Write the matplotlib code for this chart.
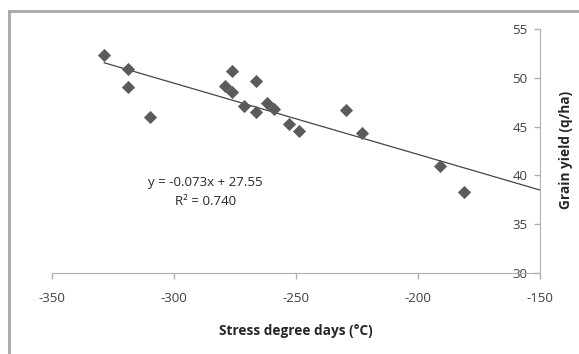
import numpy as np
from matplotlib import pyplot as plt

# stress degree days vs grain yield
sdd = [-328.6, -319.0, -318.7, -309.8, -279.0, -276.1, -276.1, -271.2,
       -266.5, -266.5, -261.8, -258.9, -253.0, -248.8, -229.5, -223.1,
       -191.0, -181.0]
grain = [52.3, 50.9, 49.1, 46.0, 49.2, 50.7, 48.5, 47.1,
         49.65, 46.5, 47.4, 46.8, 45.25, 44.6, 46.7, 44.3,
         41.0, 38.3]

slope = -0.073
intercept = 27.55
r2 = 0.740

x_ticks = [-350, -300, -250, -200, -150]
y_ticks = [30, 35, 40, 45, 50, 55]

plt.rcParams['font.family'] = ['Open Sans', 'DejaVu Sans']
plt.rcParams['axes.unicode_minus'] = False

fig = plt.figure(figsize=(5.79, 3.54), dpi=100)
ax = fig.add_axes([52 / 579, 1 - 273 / 354, 488 / 579, 244 / 354])

ax.scatter(sdd, grain, marker='D', s=45, color='#5b5b5b', zorder=3, linewidths=0)

# trend line from the first point out to the end of the axis
xl = np.array([min(sdd), -150])
ax.plot(xl, slope * xl + intercept, color='#444444', linewidth=0.9, zorder=2)

ax.set_xlim(-350, -150)
ax.set_ylim(30, 55)
ax.set_xticks(x_ticks)
ax.set_yticks(y_ticks)

spine_col = '#b0b0b0'
ax.spines['top'].set_visible(False)
ax.spines['right'].set_visible(False)
ax.spines['left'].set_position(('data', -150))
ax.spines['left'].set_color(spine_col)
ax.spines['bottom'].set_color(spine_col)
ax.tick_params(axis='both', colors=spine_col, labelcolor='#404040', labelsize=9.5,
               length=4, width=1)
ax.tick_params(axis='x', pad=10)
ax.tick_params(axis='y', pad=5)
ax.patch.set_alpha(0)

ax.set_xlabel('Stress degree days (°C)', fontsize=9.8, fontweight='bold', color='#262626', labelpad=13)
fig.text(566 / 579, 1 - 150 / 354, 'Grain yield (q/ha)', rotation=90, fontsize=9.8,
         fontweight='bold', color='#262626', ha='center', va='center')

ax.text(-287, 39.25, f'y = {slope}x + {intercept}', fontsize=9.5, color='#262626', ha='center', va='center')
ax.text(-287, 37.3, f'R² = {r2:.3f}', fontsize=9.5, color='#262626', ha='center', va='center')

# outer chart frame, only top and left edges are visible
fig.add_artist(plt.Line2D([9 / 579, 1], [1 - 10.5 / 354] * 2, color='#a8a8a8', linewidth=2))
fig.add_artist(plt.Line2D([9 / 579] * 2, [0, 1 - 10.5 / 354], color='#a8a8a8', linewidth=2))

fig.savefig('out.png', dpi=100)
